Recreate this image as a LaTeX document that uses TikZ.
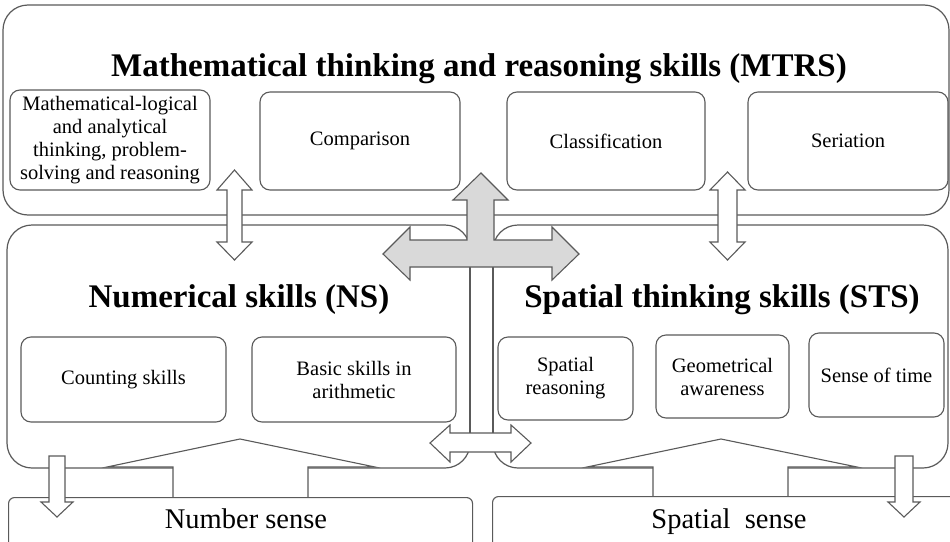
\documentclass[tikz,border=0pt]{standalone}
\usepackage{fontspec}
\setmainfont{Liberation Serif}
\definecolor{lc}{RGB}{90,90,90}
\definecolor{agray}{RGB}{217,217,217}
\begin{document}
\begin{tikzpicture}[x=1pt,y=-1pt,
  bigbox/.style={draw=lc, line width=1.2pt, rounded corners=25pt, inner sep=0pt},
  sbox/.style={draw=lc, line width=1.1pt, rounded corners=10pt, fill=white, inner sep=0pt, align=center, font=\fontsize{20.5}{23}\selectfont},
  botbox/.style={draw=lc, line width=1.1pt, rounded corners=6pt, fill=white},
  warrow/.style={draw=lc, line width=1.1pt, fill=white, line join=miter},
  garrow/.style={draw=lc, line width=1.1pt, fill=agray, line join=miter},
  title/.style={anchor=base, font=\fontsize{33}{36}\selectfont\bfseries, inner sep=0pt},
  sensetext/.style={anchor=base, font=\fontsize{28.5}{32}\selectfont, inner sep=0pt}]
\path[use as bounding box, clip] (0,0) rectangle (950,541);
\fill[white] (0,0) rectangle (950,541);

% big boxes
\node[bigbox, minimum width=946pt, minimum height=210pt] (mtrs) at (476,110) {};
\node[bigbox, minimum width=463pt, minimum height=243pt] (ns) at (238.5,346.5) {};
\node[bigbox, minimum width=455pt, minimum height=243pt] (sts) at (720.5,346.5) {};

% titles
\node[title] (mtrst) at (479,76) {Mathematical thinking and reasoning skills (MTRS)};
\node[title] (nst) at (239,307) {Numerical skills (NS)};
\node[title] (stst) at (722,307) {Spatial thinking skills (STS)};

% MTRS sub-boxes
\node[sbox, minimum width=200pt, minimum height=100pt] (mlat) at (110,140) {Mathematical-logical\\ and analytical\\ thinking, problem-\\ solving and reasoning};
\node[sbox, minimum width=200pt, minimum height=98pt] (cmp) at (360,141) {Comparison};
\node[sbox, minimum width=198pt, minimum height=98pt] (cls) at (606,141) {Classification};
\node[sbox, minimum width=200pt, minimum height=98pt] (ser) at (848,141) {Seriation};

% NS sub-boxes
\node[sbox, minimum width=205pt, minimum height=85pt] (cnt) at (123.5,379.5) {Counting skills};
\node[sbox, minimum width=204pt, minimum height=85pt] (ari) at (354,379.5) {Basic skills in\\ arithmetic};

% STS sub-boxes
\node[sbox, minimum width=135pt, minimum height=83pt] (spr) at (565.5,378.5) {Spatial\\ reasoning};
\node[sbox, minimum width=133pt, minimum height=83pt] (geo) at (722.5,376.5) {Geometrical\\ awareness};
\node[sbox, minimum width=135pt, minimum height=84pt] (tim) at (876.5,375) {Sense of time};

% callouts
\fill[white] (173,497) -- (173,467) -- (107,467) -- (240,439) -- (375,467) -- (308,467) -- (308,497) -- cycle;
\draw[draw=lc, line width=1.1pt] (173,497) -- (173,467) -- (107,467) -- (240,439) -- (375,467) -- (308,467) -- (308,497);
\fill[white] (653,497) -- (653,467) -- (587,467) -- (721,439) -- (857,467) -- (788,467) -- (788,497) -- cycle;
\draw[draw=lc, line width=1.1pt] (653,497) -- (653,467) -- (587,467) -- (721,439) -- (857,467) -- (788,467) -- (788,497);

% bottom boxes
\node[botbox, minimum width=464pt, minimum height=70pt, anchor=north west] (nsense) at (8,497) {};
\node[botbox, minimum width=480pt, minimum height=70pt, anchor=north west] (ssense) at (492,496) {};
\node[sensetext] (nsenset) at (246,528) {Number sense};
\node[sensetext] (ssenset) at (729,528) {Spatial~~sense};

% stem and left-right arrow
\draw[warrow] (470,250) rectangle (493,440);
\draw[warrow] (430,443) -- (450,425) -- (450,433) -- (511,433) -- (511,425) -- (531,443) -- (511,462) -- (511,452) -- (450,452) -- (450,462) -- cycle;

% central gray arrow
\draw[garrow] (481,173) -- (508,200) -- (494,200) -- (494,240) -- (552,240) -- (552,227) -- (579,254) -- (552,280) -- (552,267) -- (410,267) -- (410,280) -- (383,254) -- (410,227) -- (410,240) -- (467,240) -- (467,200) -- (453,200) -- cycle;

% vertical double arrows
\draw[warrow] (234.5,170) -- (252,190) -- (242,190) -- (242,242) -- (252,242) -- (234.5,260) -- (217,242) -- (227,242) -- (227,190) -- (217,190) -- cycle;
\draw[warrow] (727.5,172) -- (745,190) -- (737,190) -- (737,242) -- (745,242) -- (727.5,260) -- (710,242) -- (718,242) -- (718,190) -- (710,190) -- cycle;

% down arrows
\draw[warrow] (49,456) -- (65,456) -- (65,502) -- (73,502) -- (57,517) -- (41,502) -- (49,502) -- cycle;
\draw[warrow] (895,456) -- (913,456) -- (913,502) -- (920,502) -- (904,517) -- (888,502) -- (895,502) -- cycle;
\end{tikzpicture}
\end{document}
